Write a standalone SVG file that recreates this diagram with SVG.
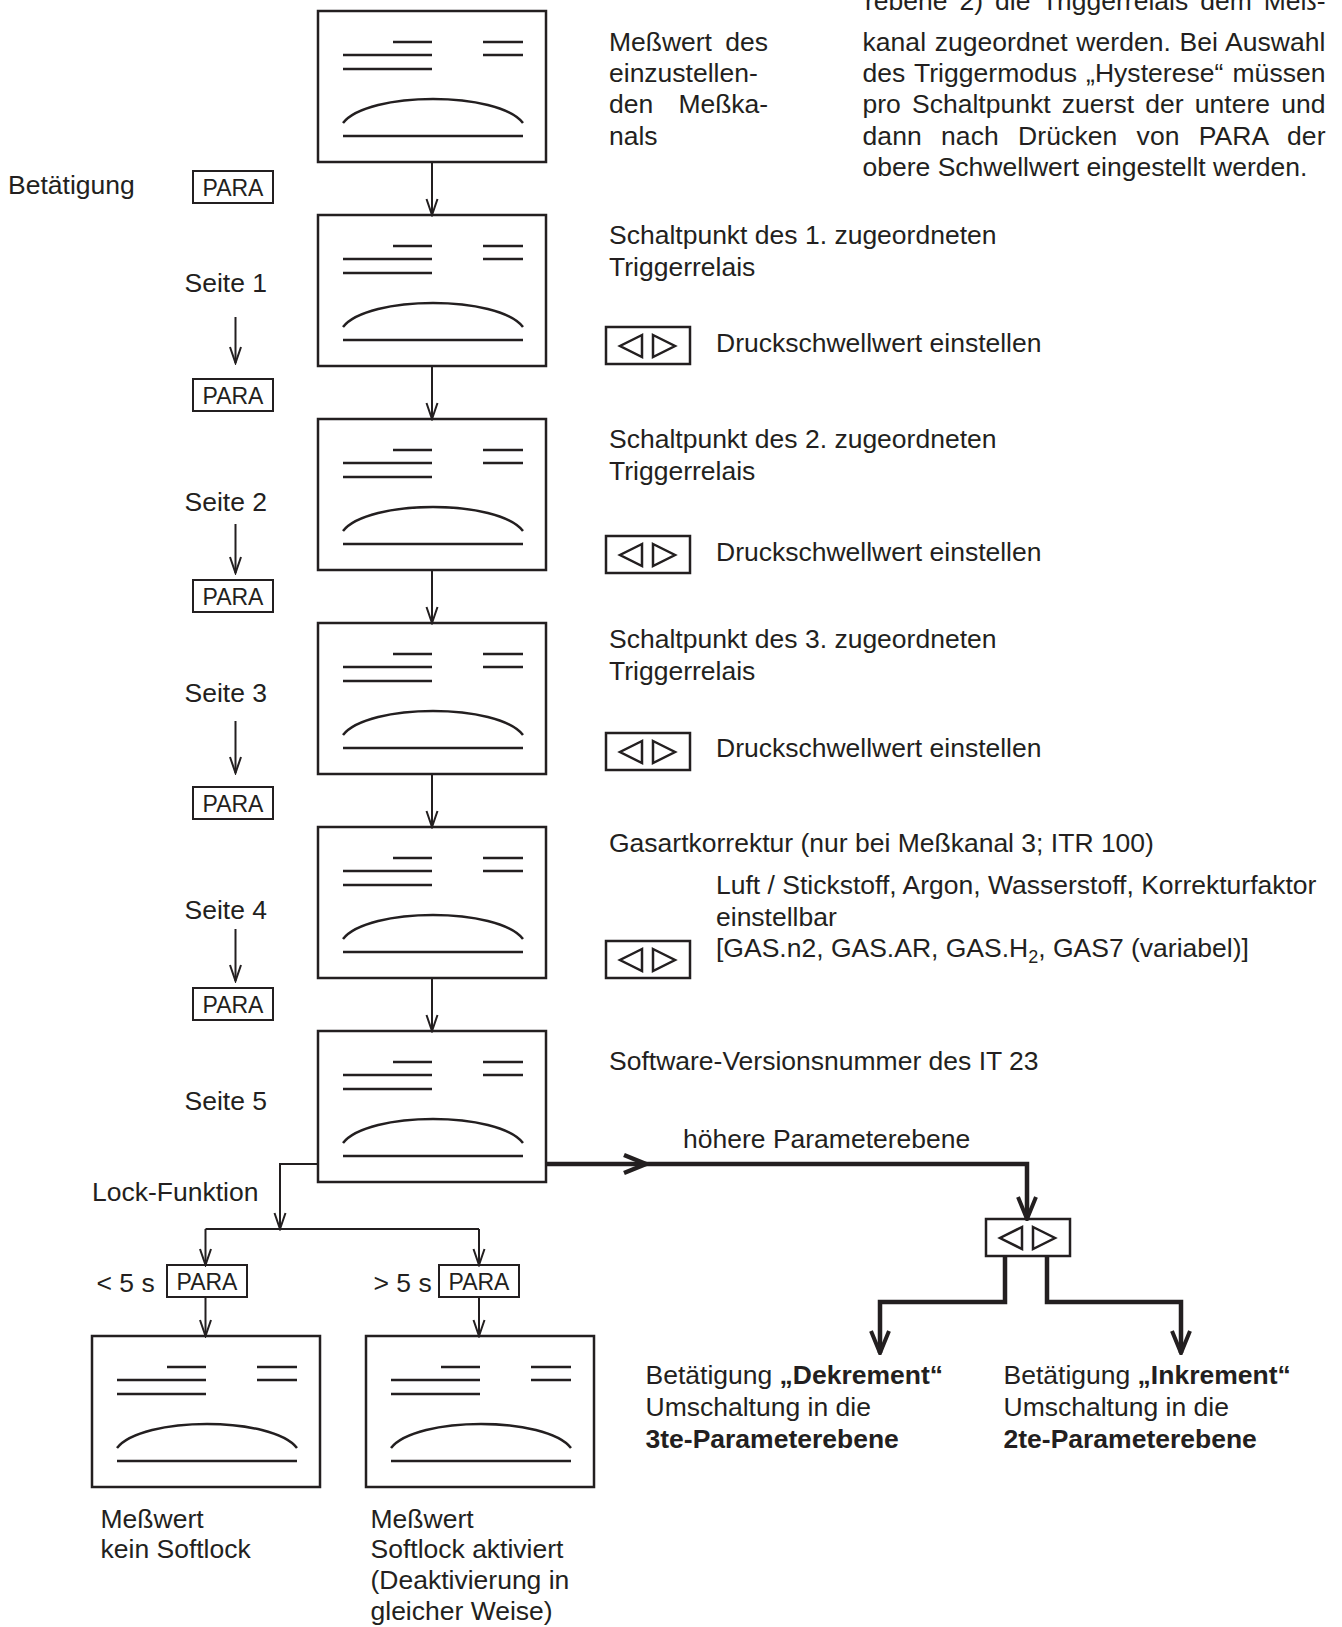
<svg xmlns="http://www.w3.org/2000/svg" xmlns:xlink="http://www.w3.org/1999/xlink" width="1342" height="1627" viewBox="0 0 1342 1627">
<style>
  text { font-family: "Liberation Sans", Arial, sans-serif; font-size: 26.5px; fill: #231f20; }
  .para { font-size: 23px; text-anchor: middle; }
  .b { font-weight: bold; }
  .box { fill: #fff; stroke: #231f20; stroke-width: 2.5; }
  .ln { fill: none; stroke: #231f20; stroke-width: 2.5; }
  .pbox { fill: #fff; stroke: #231f20; stroke-width: 2; }
  .c { fill: none; stroke: #231f20; stroke-width: 2; }
  .t { fill: none; stroke: #231f20; stroke-width: 4.5; }
</style>
<defs>
  <marker id="a" viewBox="-18 -8 20 16" refX="0" refY="0" markerWidth="20" markerHeight="16" markerUnits="userSpaceOnUse" orient="auto">
    <path d="M-16,-5.5 L0,0 L-16,5.5" fill="none" stroke="#231f20" stroke-width="2"/>
  </marker>
  <marker id="A" viewBox="-26 -12 28 24" refX="0" refY="0" markerWidth="28" markerHeight="24" markerUnits="userSpaceOnUse" orient="auto">
    <path d="M-22,-9 L0,0 L-22,9" fill="none" stroke="#231f20" stroke-width="4"/>
  </marker>
  <g id="disp">
    <rect class="box" x="0" y="0" width="228" height="151"/>
    <path class="ln" d="M75,31 H114 M25,44 H114 M25,58 H114 M165,31 H205 M165,44 H205 M25,125 H205"/>
    <path class="ln" d="M25,112 C50,80 180,80 205,112"/>
  </g>
  <g id="key">
    <rect class="box" x="0" y="0" width="84" height="37"/>
    <path class="ln" d="M36,8 L14,19 L36,30 Z M47,8 L69,19 L47,30 Z" stroke-width="2.2"/>
  </g>
  <g id="pk">
    <rect class="pbox" x="0" y="0" width="80" height="32"/>
    <text class="para" x="40" y="24.5">PARA</text>
  </g>
</defs>

<!-- Displays -->
<g id="node-messwert"><use href="#disp" x="318" y="11"/></g>
<g id="node-seite1"><use href="#disp" x="318" y="215"/></g>
<g id="node-seite2"><use href="#disp" x="318" y="419"/></g>
<g id="node-seite3"><use href="#disp" x="318" y="623"/></g>
<g id="node-seite4"><use href="#disp" x="318" y="827"/></g>
<g id="node-seite5"><use href="#disp" x="318" y="1031"/></g>
<g id="node-kein-softlock"><use href="#disp" x="92" y="1336"/></g>
<g id="node-softlock"><use href="#disp" x="366" y="1336"/></g>

<!-- Keys -->
<g id="key-1"><use href="#key" x="606" y="327"/></g>
<g id="key-2"><use href="#key" x="606" y="536"/></g>
<g id="key-3"><use href="#key" x="606" y="733"/></g>
<g id="key-4"><use href="#key" x="606" y="941"/></g>
<g id="key-hoehere"><use href="#key" x="986" y="1219"/></g>

<g id="para-0"><use href="#pk" x="193" y="171"/></g>
<g id="para-1"><use href="#pk" x="193" y="379"/></g>
<g id="para-2"><use href="#pk" x="193" y="580"/></g>
<g id="para-3"><use href="#pk" x="193" y="787"/></g>
<g id="para-4"><use href="#pk" x="193" y="988"/></g>
<g id="para-lt5"><use href="#pk" x="167" y="1265"/></g>
<g id="para-gt5"><use href="#pk" x="439" y="1265"/></g>

<!-- Connectors -->
<g id="connectors">
  <line class="c" x1="432" y1="162" x2="432" y2="215" marker-end="url(#a)"/>
  <line class="c" x1="432" y1="366" x2="432" y2="419" marker-end="url(#a)"/>
  <line class="c" x1="432" y1="570" x2="432" y2="623" marker-end="url(#a)"/>
  <line class="c" x1="432" y1="774" x2="432" y2="827" marker-end="url(#a)"/>
  <line class="c" x1="432" y1="978" x2="432" y2="1031" marker-end="url(#a)"/>
  <line class="c" x1="235.5" y1="317" x2="235.5" y2="363" marker-end="url(#a)"/>
  <line class="c" x1="235.5" y1="524" x2="235.5" y2="573" marker-end="url(#a)"/>
  <line class="c" x1="235.5" y1="721" x2="235.5" y2="773" marker-end="url(#a)"/>
  <line class="c" x1="235.5" y1="929" x2="235.5" y2="981" marker-end="url(#a)"/>
  <path class="c" d="M319,1164 H280 V1229" marker-end="url(#a)"/>
  <path class="c" d="M205.5,1229 H479"/>
  <line class="c" x1="205.5" y1="1229" x2="205.5" y2="1265" marker-end="url(#a)"/>
  <line class="c" x1="479" y1="1229" x2="479" y2="1265" marker-end="url(#a)"/>
  <line class="c" x1="205.5" y1="1298" x2="205.5" y2="1336" marker-end="url(#a)"/>
  <line class="c" x1="479" y1="1298" x2="479" y2="1336" marker-end="url(#a)"/>
  <path class="t" d="M546,1164 H1027 V1219" marker-end="url(#A)"/>
  <path class="t" d="M624,1155 L646,1164 L624,1173" stroke-width="4"/>
  <path class="t" d="M1005,1256 V1302 H880 V1353" marker-end="url(#A)"/>
  <path class="t" d="M1047,1256 V1302 H1181 V1353" marker-end="url(#A)"/>
</g>

<!-- Texts -->
<g id="paragraph">
  <text x="865" y="10" textLength="460.5" lengthAdjust="spacing" word-spacing="4.5">rebene 2) die Triggerrelais dem Meß-</text>
  <text x="862.5" y="51" textLength="463" lengthAdjust="spacing" word-spacing="1.2">kanal zugeordnet werden. Bei Auswahl</text>
  <text x="862.5" y="82" textLength="463" lengthAdjust="spacing" word-spacing="1.7">des Triggermodus „Hysterese“ müssen</text>
  <text x="862.5" y="113" textLength="463" lengthAdjust="spacing" word-spacing="3.9">pro Schaltpunkt zuerst der untere und</text>
  <text x="862.5" y="144.5" textLength="463" lengthAdjust="spacing" word-spacing="11.6">dann nach Drücken von PARA der</text>
  <text x="862.5" y="176">obere Schwellwert eingestellt werden.</text>
</g>
<g id="labels">
  <text x="609" y="51" textLength="159" lengthAdjust="spacing" word-spacing="6">Meßwert des</text>
  <text x="609" y="82">einzustellen-</text>
  <text x="609" y="113" textLength="159" lengthAdjust="spacing" word-spacing="18">den Meßka-</text>
  <text x="609" y="144.5">nals</text>

  <text x="8" y="194">Betätigung</text>
  <text x="184.5" y="292">Seite 1</text>
  <text x="184.5" y="511">Seite 2</text>
  <text x="184.5" y="702">Seite 3</text>
  <text x="184.5" y="919">Seite 4</text>
  <text x="184.5" y="1110">Seite 5</text>

  <text x="609" y="244">Schaltpunkt des 1. zugeordneten</text>
  <text x="609" y="276">Triggerrelais</text>
  <text x="716" y="352">Druckschwellwert einstellen</text>
  <text x="609" y="447.5">Schaltpunkt des 2. zugeordneten</text>
  <text x="609" y="479.5">Triggerrelais</text>
  <text x="716" y="561">Druckschwellwert einstellen</text>
  <text x="609" y="648">Schaltpunkt des 3. zugeordneten</text>
  <text x="609" y="680">Triggerrelais</text>
  <text x="716" y="757">Druckschwellwert einstellen</text>

  <text x="609" y="852">Gasartkorrektur (nur bei Meßkanal 3; ITR 100)</text>
  <text x="716" y="893.5">Luft / Stickstoff, Argon, Wasserstoff, Korrekturfaktor</text>
  <text x="716" y="925.5">einstellbar</text>
  <text x="716" y="957">[GAS.n2, GAS.AR, GAS.H<tspan font-size="18" dy="6">2</tspan><tspan dy="-6">, GAS7 (variabel)]</tspan></text>

  <text x="609" y="1070">Software-Versionsnummer des IT 23</text>
  <text x="683" y="1148">höhere Parameterebene</text>
  <text x="92" y="1200.5">Lock-Funktion</text>
  <text x="96.5" y="1292">&lt; 5 s</text>
  <text x="373.5" y="1292">&gt; 5 s</text>

  <text x="645.5" y="1384">Betätigung <tspan class="b">„Dekrement“</tspan></text>
  <text x="645.5" y="1416">Umschaltung in die</text>
  <text x="645.5" y="1448" class="b">3te-Parameterebene</text>
  <text x="1003.5" y="1384">Betätigung <tspan class="b">„Inkrement“</tspan></text>
  <text x="1003.5" y="1416">Umschaltung in die</text>
  <text x="1003.5" y="1448" class="b">2te-Parameterebene</text>

  <text x="100.5" y="1527.5">Meßwert</text>
  <text x="100.5" y="1558">kein Softlock</text>
  <text x="370.5" y="1527.5">Meßwert</text>
  <text x="370.5" y="1558">Softlock aktiviert</text>
  <text x="370.5" y="1589">(Deaktivierung in</text>
  <text x="370.5" y="1620">gleicher Weise)</text>
</g>
</svg>
